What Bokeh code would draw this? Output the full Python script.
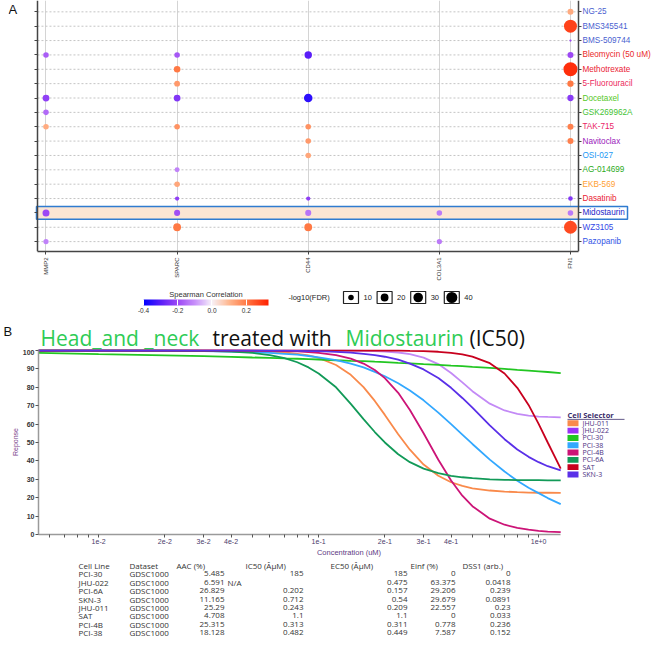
import math
import numpy as np
from bokeh.plotting import figure
from bokeh.models import (ColumnDataSource, Range1d, FixedTicker, LinearAxis,
                          LinearColorMapper, ColorBar, PrintfTickFormatter, CustomJSTickFormatter)
from bokeh.transform import linear_cmap
from bokeh.layouts import column
from bokeh.embed import file_html
from bokeh.resources import INLINE
from bokeh.core.properties import value

# ---------------- Panel A data ----------------
genes = ["MMP2", "SPARC", "CD44", "COL3A1", "FN1"]
drugs = ["NG-25", "BMS345541", "BMS-509744", "Bleomycin (50 uM)", "Methotrexate",
         "5-Fluorouracil", "Docetaxel", "GSK269962A", "TAK-715", "Navitoclax", "OSI-027",
         "AG-014699", "EKB-569", "Dasatinib", "Midostaurin", "WZ3105", "Pazopanib"]
drug_colors = ["#4a5fd0", "#4a5fd0", "#4a5fd0", "#ea2a2a", "#ea2233", "#ec2a5c", "#55c828",
               "#44c233", "#ea2466", "#9a22bb", "#2299f5", "#2aaa22", "#ffa033", "#ea2233",
               "#2424c8", "#3348e6", "#3355e6"]

dot_drug = ["NG-25", "BMS345541", "BMS-509744",
            "Bleomycin (50 uM)", "Bleomycin (50 uM)", "Bleomycin (50 uM)", "Bleomycin (50 uM)",
            "Methotrexate", "Methotrexate", "5-Fluorouracil", "5-Fluorouracil",
            "Docetaxel", "Docetaxel", "Docetaxel", "Docetaxel", "GSK269962A",
            "TAK-715", "TAK-715", "TAK-715", "TAK-715", "Navitoclax", "Navitoclax",
            "OSI-027", "AG-014699", "EKB-569", "Dasatinib", "Dasatinib", "Dasatinib",
            "Midostaurin", "Midostaurin", "Midostaurin", "Midostaurin", "Midostaurin",
            "WZ3105", "WZ3105", "WZ3105", "Pazopanib", "Pazopanib"]
dot_gene = ["FN1", "FN1", "FN1",
            "MMP2", "SPARC", "CD44", "FN1",
            "SPARC", "FN1", "SPARC", "FN1",
            "MMP2", "SPARC", "CD44", "FN1", "MMP2",
            "MMP2", "SPARC", "CD44", "FN1", "CD44", "FN1",
            "CD44", "SPARC", "SPARC", "SPARC", "CD44", "FN1",
            "MMP2", "SPARC", "CD44", "COL3A1", "FN1",
            "SPARC", "CD44", "FN1", "MMP2", "COL3A1"]
dot_corr = [0.12, 0.28, -0.2,
            -0.17, -0.18, -0.3, -0.2,
            0.2, 0.31, 0.15, 0.2,
            -0.22, -0.24, -0.35, -0.23, -0.15,
            0.12, 0.16, 0.16, 0.19, 0.15, 0.19,
            0.13, -0.12, 0.13, -0.22, -0.22, -0.24,
            -0.2, -0.19, -0.14, -0.13, -0.13,
            0.2, 0.2, 0.27, -0.12, -0.13]
dot_fdr = [12, 55, 1.5,
           10, 10, 18, 12,
           14, 64, 11, 13,
           15, 15, 24, 13, 10,
           10, 10, 10, 12, 10, 12,
           10, 8, 10, 6, 6, 7,
           16, 12, 12, 10, 10,
           20, 20, 55, 9, 9]
highlight_drug = "Midostaurin"
size_legend_vals = [10, 20, 30, 40]
corr_ticks = [-0.4, -0.2, 0.0, 0.2]
corr_low, corr_high = -0.4, 0.33

# ---------------- Panel B data ----------------
conc = [0.00533, 0.01, 0.02, 0.03, 0.04, 0.05, 0.06, 0.07, 0.08, 0.09, 0.1, 0.12, 0.14, 0.16,
        0.18, 0.2, 0.23, 0.26, 0.3, 0.35, 0.4, 0.45, 0.5, 0.6, 0.7, 0.8, 0.9, 1.0, 1.1, 1.26]
resp_JHU011 = [100, 100, 100, 100, 99.9, 99.7, 99.4, 98.9, 98.2, 97.3, 96.0, 92.1, 86.8, 80.1,
               72.6, 65.0, 54.5, 46.1, 38.0, 31.9, 28.4, 26.4, 25.1, 23.9, 23.3, 23.0, 22.8,
               22.7, 22.7, 22.6]
resp_JHU022 = [100, 100, 100, 100, 100, 100, 100, 100, 100, 100, 100, 100, 100, 99.8,
               99.7, 99.4, 98.9, 98.0, 96.1, 92.6, 87.8, 82.7, 77.9, 71.1, 67.4, 65.6, 64.6,
               64.1, 63.9, 63.7]
resp_PCI30 = [98.7, 98.0, 97.3, 96.9, 96.5, 96.2, 96.0, 95.7, 95.5, 95.3, 95.1, 94.7, 94.4, 94.2,
              93.9, 93.7, 93.3, 93.0, 92.6, 92.2, 91.8, 91.5, 91.1, 90.5, 90.0, 89.5, 89.1,
              88.7, 88.3, 87.7]
resp_PCI38 = [100, 100, 99.9, 99.7, 99.4, 99.1, 98.7, 98.2, 97.7, 97.0, 96.3, 94.7, 92.8, 90.8,
              88.4, 86.0, 82.2, 78.2, 72.9, 66.2, 60.0, 54.3, 49.2, 40.7, 34.2, 29.2, 25.4,
              22.5, 19.8, 16.5]
resp_PCI4B = [100, 100, 100, 100, 100, 99.9, 99.8, 99.7, 99.5, 99.1, 98.7, 97.5, 95.6, 92.9,
              89.4, 85.0, 77.0, 67.7, 55.0, 40.6, 29.3, 21.1, 15.4, 8.6, 5.3, 3.6, 2.6,
              2.0, 1.6, 1.3]
resp_PCI6A = [100, 100, 100, 99.8, 99.4, 98.7, 97.5, 95.9, 93.6, 90.8, 87.5, 80.0, 71.0, 62.7,
              55.7, 50.0, 43.6, 39.3, 35.8, 33.3, 31.9, 31.1, 30.6, 30.0, 29.7, 29.6, 29.5,
              29.5, 29.4, 29.4]
resp_SAT = [100, 100, 100, 100, 100, 100, 100, 100, 100, 100, 100, 100, 100, 100,
            100, 100, 100, 99.8, 99.6, 99.3, 98.7, 97.9, 96.7, 93.1, 87.5, 79.7, 70.4,
            60.1, 50.0, 35.8]
resp_SKN3 = [100, 100, 100, 100, 100, 100, 99.9, 99.9, 99.8, 99.7, 99.6, 99.2, 98.8, 98.2,
             97.5, 96.6, 95.0, 92.9, 89.7, 85.0, 79.7, 74.2, 68.9, 59.3, 51.8, 46.2, 42.2,
             39.3, 37.1, 34.8]
cell_names = ["JHU-011", "JHU-022", "PCI-30", "PCI-38", "PCI-4B", "PCI-6A", "SAT", "SKN-3"]
cell_resps = [resp_JHU011, resp_JHU022, resp_PCI30, resp_PCI38, resp_PCI4B, resp_PCI6A,
              resp_SAT, resp_SKN3]
line_colors = ["#f98a4b", "#c38af6", "#22c622", "#33a8ff", "#cc1477", "#129a58", "#c8001e",
               "#5a30e8"]
swatch_colors = ["#f98a4b", "#9933f5", "#22c622", "#33a8ff", "#cc1477", "#129a58", "#c8001e",
                 "#5a30e8"]
conc_major = [0.01, 0.02, 0.03, 0.04, 0.1, 0.2, 0.3, 0.4, 1.0]
conc_minor = [0.006, 0.007, 0.008, 0.009, 0.05, 0.06, 0.07, 0.08, 0.09,
              0.5, 0.6, 0.7, 0.8, 0.9]
resp_ticks = [0, 10, 20, 30, 40, 50, 60, 70, 80, 90, 100]

title_parts = ["Head_and _neck", "treated with", "Midostaurin", "(IC50)"]
title_colors = ["#2ecc55", "#111111", "#2ecc55", "#111111"]

# ---------------- Table data ----------------
tab_headers = ["Cell Line", "Dataset", "AAC (%)", "IC50 (ÂµM)", "EC50 (ÂµM)", "Einf (%)", "DSS1 (arb.)"]
tab_cell = ["PCI-30", "JHU-022", "PCI-6A", "SKN-3", "JHU-011", "SAT", "PCI-4B", "PCI-38"]
tab_dataset = ["GDSC1000"] * 8
tab_aac = [5.485, 6.591, 26.829, 11.165, 25.29, 4.708, 25.315, 18.128]
tab_ic50 = [185, None, 0.202, 0.712, 0.243, 1.1, 0.313, 0.482]
tab_ec50 = [185, 0.475, 0.157, 0.54, 0.209, 1.1, 0.311, 0.449]
tab_einf = [0, 63.375, 29.206, 29.679, 22.557, 0, 0.778, 7.587]
tab_dss1 = [0, 0.0418, 0.239, 0.0891, 0.23, 0.033, 0.236, 0.152]

# ====================================================================
W = 659
FONT = "Liberation Sans"
EMPTY = CustomJSTickFormatter(code="return '';")


def blank(height, y_top, y_bottom):
    p = figure(width=W, height=height, x_range=Range1d(0, W), y_range=Range1d(y_bottom, y_top),
               x_axis_location=None, y_axis_location=None, output_backend="svg",
               toolbar_location=None, min_border=0, frame_align=False)
    p.grid.visible = False
    p.outline_line_color = None
    return p


# colour palette (blue - purple - white - orange - red)
stops = [-0.4, -0.3, -0.2, -0.1, 0.0, 0.1, 0.2, 0.33]
stop_cols = ["#0000ff", "#5a1ef8", "#9d48f5", "#c890fa", "#f7f1f8", "#ffb890", "#ff7a45", "#ff2000"]
rgb = np.array([[int(c[i:i + 2], 16) for i in (1, 3, 5)] for c in stop_cols])
pv = np.linspace(corr_low, corr_high, 256)
palette = ["#%02x%02x%02x" % tuple(int(round(np.interp(v, stops, rgb[:, k]))) for k in range(3))
           for v in pv]
mapper = LinearColorMapper(palette=palette, low=corr_low, high=corr_high)

# ---------------- Panel A ----------------
nA, ng = len(drugs), len(genes)
xa0, xa1 = -0.286, 4.618          # frame (includes label area on the right)
ax_lo, ax_hi = -0.065, 4.061      # plotting panel limits
ya0, ya1 = -0.688, 16.79
rows = [nA - 1 - i for i in range(nA)]
pA = figure(width=W, height=283, x_range=Range1d(xa0, xa1), y_range=Range1d(ya0, ya1),
            output_backend="svg", toolbar_location=None, frame_align=False,
            min_border_left=8, min_border_right=8, min_border_top=0, min_border_bottom=29)
pA.outline_line_color = None
pA.xaxis.ticker = FixedTicker(ticks=list(range(ng)))
pA.xaxis.major_label_overrides = {i: g for i, g in enumerate(genes)}
pA.xaxis.major_label_orientation = math.pi / 2
pA.xaxis.major_label_text_font_size = "6px"
pA.xaxis.major_label_text_color = "#333333"
pA.xaxis.major_label_standoff = 3
pA.xaxis.bounds = (ax_lo, ax_hi)
pA.yaxis.ticker = FixedTicker(ticks=list(range(nA)))
pA.yaxis.formatter = EMPTY
pA.yaxis.major_label_standoff = 0
pA.yaxis.fixed_location = ax_lo
ra = LinearAxis(ticker=FixedTicker(ticks=list(range(nA))), formatter=EMPTY,
                major_label_standoff=0, fixed_location=ax_hi)
pA.add_layout(ra, "right")
for ax in pA.axis:
    ax.axis_line_color = "#444444"
    ax.axis_line_width = 1.5
    ax.major_tick_line_color = "#444444"
    ax.major_tick_out = 3
    ax.major_tick_in = 0
    ax.minor_tick_line_color = None
pA.ygrid.visible = False
pA.xgrid.ticker = FixedTicker(ticks=list(range(ng)))
pA.xgrid.grid_line_color = "#d4d4d4"

# dashed row grid lines limited to the panel
pA.segment(x0=[ax_lo] * nA, x1=[ax_hi] * nA, y0=rows, y1=rows, line_color="#c4c4c4",
           line_dash="2 2", line_width=1)

mid_y = nA - 1 - drugs.index(highlight_drug)
pA.quad(left=[ax_lo], right=[ax_hi], bottom=[mid_y - 0.45], top=[mid_y + 0.45],
        fill_color="#fbe5d3", line_color=None)

srcA = ColumnDataSource(dict(
    x=[genes.index(g) for g in dot_gene],
    y=[nA - 1 - drugs.index(d) for d in dot_drug],
    size=[1.75 * math.sqrt(v) for v in dot_fdr],
    corr=dot_corr))
pA.scatter("x", "y", size="size", source=srcA,
           fill_color=linear_cmap("corr", palette, corr_low, corr_high), line_color=None)

pA.text(x=[ax_hi] * nA, y=rows, text=drugs, text_color=drug_colors, x_offset=4,
        text_baseline="middle", text_font_size="8.2px", text_font=value(FONT))
pA.quad(left=[ax_lo - 0.0075], right=[ax_hi + 0.374], bottom=[mid_y - 0.45],
        top=[mid_y + 0.45], fill_color=None, line_color="#2f7bd0", line_width=1.5)
pA.text(x=[xa0], y=[ya1], text=["A"], text_baseline="top", text_font_size="13px",
        text_font=value(FONT), text_color="#111111", y_offset=1)

# ---------------- Legend row for panel A ----------------
pL = blank(35, 283, 318)
cb = ColorBar(color_mapper=mapper, orientation="horizontal", width=125, height=6,
              location=(143, 3), padding=0, ticker=FixedTicker(ticks=corr_ticks),
              formatter=PrintfTickFormatter(format="%.1f"), major_label_text_font_size="6.5px",
              major_label_text_color="#333333", label_standoff=2, major_tick_line_color="white",
              major_tick_in=6, major_tick_out=0, bar_line_color=None, background_fill_alpha=0,
              border_line_color=None)
pL.add_layout(cb)
pL.text(x=[205.5], y=[293.5], text=["Spearman Correlation"], text_align="center",
        text_baseline="middle", text_font_size="7.5px", text_font=value(FONT), text_color="#333333")
pL.text(x=[288], y=[297], text=["-log10(FDR)"], text_baseline="middle", text_font_size="7.5px",
        text_font=value(FONT), text_color="#222222")
kx = [350.5 + 33.6 * i for i in range(len(size_legend_vals))]
pL.rect(x=kx, y=[297] * len(kx), width=15, height=12, fill_color="white", line_color="#222222",
        line_width=1.2)
pL.scatter(x=kx, y=[297] * len(kx), size=[1.75 * math.sqrt(v) for v in size_legend_vals],
           fill_color="black", line_color=None)
pL.text(x=[k + 12.5 for k in kx], y=[297] * len(kx), text=[str(v) for v in size_legend_vals],
        text_baseline="middle", text_font_size="7.5px", text_font=value(FONT), text_color="#222222")

# ---------------- Title row for panel B (overlapped by the transparent panel below) -------------
pT = blank(36, 318, 354)
pT.text(x=[40, 212, 345, 469], y=[337.5] * 4, text=title_parts, text_color=title_colors,
        text_font=value("Open Sans"), text_font_size="21px", text_baseline="middle")
pT.text(x=[3], y=[331], text=["B"], text_font=value(FONT), text_font_size="13px",
        text_baseline="middle", text_color="#111111")

# ---------------- Panel B ----------------
PXD = 220.0          # pixels per decade
LOG0 = -2.2733       # log10 of concentration at the frame's left edge (x = 38 px)


def px2x(px):
    return 10 ** (LOG0 + (px - 38) / PXD)


def py2y(py):
    return (537 - py) / 1.87


pB = figure(width=W, height=210, x_axis_type="log", x_range=Range1d(px2x(38), px2x(659)),
            y_range=Range1d(py2y(537), py2y(349)), output_backend="svg", toolbar_location=None,
            frame_align=False, min_border_left=38, min_border_right=0, min_border_top=0,
            min_border_bottom=22, margin=(-5, 0, 0, 0))
pB.background_fill_alpha = 0
pB.border_fill_alpha = 0
pB.grid.visible = False
pB.outline_line_color = None
pB.xaxis.ticker = FixedTicker(ticks=conc_major, minor_ticks=conc_minor)
pB.xaxis.formatter = CustomJSTickFormatter(code="return tick.toExponential(0);")
pB.xaxis.bounds = (px2x(38), conc[-1])
pB.yaxis.ticker = FixedTicker(ticks=resp_ticks)
for ax in pB.axis:
    ax.axis_line_color = "#9a9a9a"
    ax.axis_line_width = 1.5
    ax.major_tick_line_color = "#555555"
    ax.minor_tick_line_color = "#555555"
    ax.major_tick_out = 3
    ax.major_tick_in = 0
    ax.minor_tick_out = 3
    ax.minor_tick_in = 0
    ax.major_label_standoff = 1
    ax.axis_label_standoff = 1
pB.yaxis.major_label_text_font_size = "7px"
pB.yaxis.major_label_text_font_style = "bold"
pB.yaxis.major_label_text_color = "#333333"
pB.xaxis.major_label_text_font_size = "7px"
pB.xaxis.major_label_text_color = "#4a3a6a"
pB.xaxis.axis_label = "Concentration (uM)"
pB.xaxis.axis_label_text_font_size = "7.5px"
pB.xaxis.axis_label_text_font_style = "normal"
pB.xaxis.axis_label_text_color = "#5e3a84"
pB.yaxis.axis_label = "Reponse"
pB.yaxis.axis_label_text_font_size = "7px"
pB.yaxis.axis_label_text_font_style = "normal"
pB.yaxis.axis_label_text_color = "#7a3f8a"

for resp, col in zip(cell_resps, line_colors):
    pB.line(conc, resp, line_color=col, line_width=1.8)

# "Cell Selector" legend (drawn inside the extended frame)
n_cells = len(cell_names)
leg_py = [424 + 7.43 * i for i in range(n_cells)]
pB.quad(left=[px2x(567)] * n_cells, right=[px2x(578)] * n_cells,
        top=[py2y(p - 3) for p in leg_py], bottom=[py2y(p + 3) for p in leg_py],
        fill_color=swatch_colors, line_color=None)
pB.text(x=[px2x(582)] * n_cells, y=[py2y(p) for p in leg_py], text=cell_names,
        text_baseline="middle", text_font=value("Open Sans"), text_font_size="7px",
        text_color="#4b2f7f")
pB.text(x=[px2x(567)], y=[py2y(415.5)], text=["Cell Selector"], text_baseline="middle",
        text_font=value("Open Sans"), text_font_size="7.5px", text_font_style="bold",
        text_color="#3b2d6b")
pB.segment(x0=[px2x(567)], x1=[px2x(624)], y0=[py2y(420)], y1=[py2y(420)],
           line_color="#3b2d6b", line_width=0.8)

# ---------------- Table ----------------
pTab = blank(90, 559, 649)
row_y0, row_dy = 565, 8.4
ys = [row_y0 + row_dy * (i + 1) for i in range(len(tab_cell))]
tk = dict(text_font=value("Open Sans"), text_font_size="8px", text_color="#333333",
          text_baseline="middle")
head_x = [78, 129, 176, 245, 330, 410, 462]
pTab.text(x=head_x, y=[row_y0] * len(head_x), text=tab_headers, **tk)
pTab.text(x=[78] * len(ys), y=ys, text=tab_cell, **tk)
pTab.text(x=[129] * len(ys), y=ys, text=tab_dataset, **tk)


def fmt(v):
    return "%g" % v


pTab.text(x=[224] * len(ys), y=ys, text=[fmt(v) for v in tab_aac], text_align="right", **tk)
ic_num = [(y, fmt(v)) for y, v in zip(ys, tab_ic50) if v is not None]
ic_na = [y for y, v in zip(ys, tab_ic50) if v is None]
pTab.text(x=[303] * len(ic_num), y=[a for a, _ in ic_num], text=[b for _, b in ic_num],
          text_align="right", **tk)
pTab.text(x=[227] * len(ic_na), y=ic_na, text=["N/A"] * len(ic_na), **tk)
pTab.text(x=[407] * len(ys), y=ys, text=[fmt(v) for v in tab_ec50], text_align="right", **tk)
pTab.text(x=[455] * len(ys), y=ys, text=[fmt(v) for v in tab_einf], text_align="right", **tk)
pTab.text(x=[510] * len(ys), y=ys, text=[fmt(v) for v in tab_dss1], text_align="right", **tk)

layout = column(pA, pL, pT, pB, pTab)
open("out.html", "w").write(file_html(layout, INLINE))
